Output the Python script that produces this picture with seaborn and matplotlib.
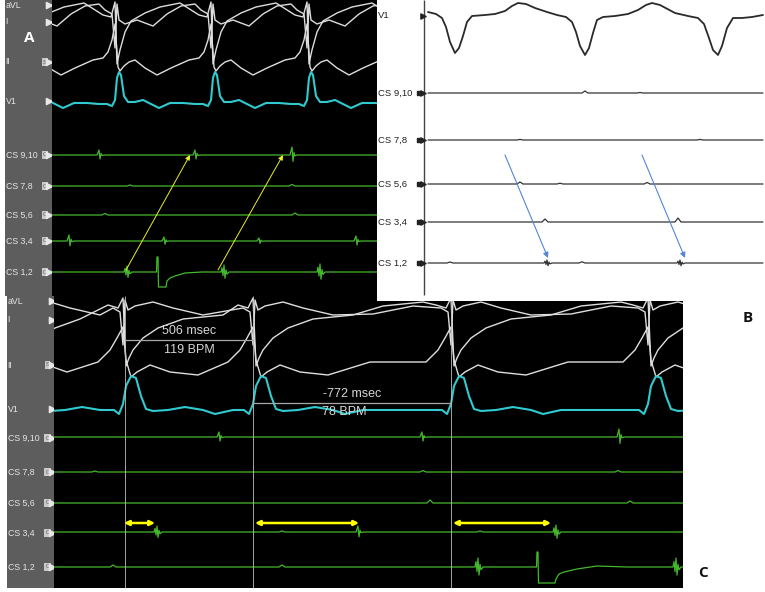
import matplotlib
matplotlib.use("Agg")
import matplotlib.pyplot as plt
import seaborn as sns

sns.set_style("white")
NARROW = ["Liberation Sans Narrow", "Liberation Sans", "DejaVu Sans"]
plt.rcParams["font.family"] = NARROW

W, H = 765, 592

# ======================= DATA =======================
# --- channel labels ---
A_labels = ["aVL", "I", "II", "V1", "CS 9,10", "CS 7,8", "CS 5,6", "CS 3,4", "CS 1,2"]
A_label_rows = [5, 22, 62, 101, 155, 186, 215, 241, 272]
A_box_letters = ["", "", "S", "", "C", "C", "C", "C", "C"]
C_labels = ["aVL", "I", "II", "V1", "CS 9,10", "CS 7,8", "CS 5,6", "CS 3,4", "CS 1,2"]
C_label_rows = [301, 320, 365, 409, 438, 472, 503, 533, 567]
C_box_letters = ["", "", "S", "", "C", "C", "C", "C", "C"]
B_labels = ["V1", "CS 9,10", "CS 7,8", "CS 5,6", "CS 3,4", "CS 1,2"]
B_label_rows = [16, 93, 140, 184, 222, 263]

# --- QRS (ventricular) timing of each panel ---
A_qrs = [19, 115, 211, 307, 403]
C_qrs = [20, 123, 253, 451, 648, 845]

# --- surface lead complex shapes, panel A (offset from QRS, level) ---
A_II_pre_dx = [-22, -12, -7, -3, 0]
A_II_pre_y = [60, 58, 52, 40, 24]
A_II_post_dx = [3, 5, 9, 14, 20, 30, 42, 56, 70, 80]
A_II_post_y = [67, 71, 66, 62, 60, 68, 75, 68, 62, 60]
A_I_pre_dx = [-12, -4, 0]
A_I_pre_y = [15, 17, 2]
A_I_post_dx = [2, 5, 10, 16, 30, 45, 65, 80]
A_I_post_y = [64, 50, 32, 21, 13, 7, 3, 9]
A_aVL_pre_dx = [-10, -3, 0]
A_aVL_pre_y = [10, 14, 48]
A_aVL_post_dx = [2, 4, 10, 22, 38, 52, 66, 80]
A_aVL_post_y = [4, 20, 24, 20, 26, 14, 6, 4]
A_V1_pre_dx = [-8, -3, 0]
A_V1_pre_y = [104, 106, 100]
A_V1_post_dx = [2, 4, 6, 9, 13, 20, 28, 36, 44, 55, 68, 80]
A_V1_post_y = [78, 72, 75, 96, 102, 102, 100, 104, 108, 103, 103, 104]

# --- surface lead complex shapes, panel C ---
C_II_pre_dx = [-25, -13, -6, 0]
C_II_pre_y = [362, 350, 338, 327]
C_II_post_dx = [3, 8, 14, 27, 47, 75, 117, 160]
C_II_post_y = [360, 377, 372, 365, 372, 375, 362, 362]
C_I_pre_dx = [-15, -5, 0]
C_I_pre_y = [305, 308, 298]
C_I_post_dx = [3, 6, 10, 20, 35, 60, 100, 130, 170]
C_I_post_y = [366, 358, 350, 338, 328, 319, 315, 306, 302]
C_aVL_pre_dx = [-10, -3, 0]
C_aVL_pre_y = [308, 312, 345]
C_aVL_post_dx = [2, 5, 12, 30, 50, 80, 120, 160]
C_aVL_post_y = [300, 310, 306, 302, 308, 315, 314, 306]
C_V1_pre_dx = [-9, -4, 0]
C_V1_pre_y = [410, 414, 404]
C_V1_post_dx = [3, 8, 13, 18, 23, 30, 45, 62, 80, 92, 110, 140]
C_V1_post_y = [386, 376, 378, 396, 409, 411, 410, 407, 410, 414, 410, 410]

# --- panel B surface V1 ---
B_V1_x = [428, 436, 442, 446, 450, 455, 459, 463, 467, 472, 485, 495, 505, 512, 518,
          526, 535, 547, 557, 566, 572, 576, 580, 585, 589, 593, 597, 603, 615, 628,
          638, 646, 652, 660, 675, 688, 698, 704, 709, 713, 718, 722, 727, 733, 742, 752, 763]
B_V1_y = [12, 14, 18, 27, 42, 53, 48, 36, 22, 16, 15, 14, 11, 6, 3,
          4, 8, 12, 15, 17, 22, 32, 46, 55, 48, 33, 20, 17, 16, 14,
          10, 5, 3, 5, 13, 16, 18, 24, 38, 50, 55, 46, 28, 18, 18, 17, 15]

# --- coronary sinus deflection shapes ---
BI_DX = [-3, -1, 0, 1, 2, 4]
BI_DY = [0, -1.0, 0.8, -0.3, 0.1, 0]
UP_DX = [-3, 0, 3]
UP_DY = [0, -1, 0]
FR_DX = [-3, -2, -1, 0, 1, 2, 3, 5]
FR_DY = [0, -0.6, 0.5, -1.0, 0.9, -0.3, 0.3, 0]
PACE_A_DX = [-0.5, 0, 1, 1.5, 9, 10, 13, 18, 28, 45]
PACE_A_DY = [0, -15, -15, 15, 15, 9, 6, 4, 1, 0]
PACE_C_DX = [-0.5, 0, 1, 1.5, 18, 19, 22, 27, 40, 60, 90]
PACE_C_DY = [0, -15, -15, 16, 16, 12, 7, 5, 2, -1, 0]

# --- CS channels: baseline and (time, shape, amplitude) events ---
A_cs_rows = [155, 186, 215, 241, 272]
A_cs_events = [
    [(100, "bi", 5), (196, "bi", 5), (293, "bi", 8)],
    [(130, "up", 1), (292, "up", 1.5)],
    [(105, "up", 1.5), (295, "up", 2)],
    [(70, "bi", 6), (165, "bi", 4), (260, "bi", 3), (357, "bi", 5)],
    [(127, "fr", 6), (157, "paceA", 1), (224, "fr", 7), (320, "fr", 8)],
]
C_cs_rows = [437, 472, 503, 532, 567]
C_cs_events = [
    [(220, "bi", 5), (423, "bi", 5), (620, "bi", 8)],
    [(95, "up", 1), (423, "up", 1.5), (618, "up", 1.5)],
    [(430, "up", 3), (630, "up", 2)],
    [(157, "fr", 6), (282, "up", 1), (359, "bi", 6), (480, "up", 1), (556, "fr", 7)],
    [(113, "up", 2), (282, "up", 2), (478, "fr", 9), (537, "paceC", 1), (676, "fr", 9)],
]
B_cs_rows = [93, 140, 184, 222, 263]
B_cs_events = [
    [(585, "up", 2), (640, "up", 0.5)],
    [(520, "up", 0.6), (700, "up", 0.6)],
    [(520, "up", 2), (560, "up", 0.8), (647, "up", 1.5)],
    [(545, "up", 3), (678, "up", 4)],
    [(450, "up", 1), (547, "fr", 3), (582, "up", 1.2), (680, "fr", 3)],
]

# --- annotations ---
A_arrow_from = [(126, 270), (218, 270)]
A_arrow_to = [(190, 155), (283, 155)]
B_arrow_from = [(505, 155), (642, 155)]
B_arrow_to = [(548, 258), (685, 258)]
C_marker_x = [125, 253, 451]
C_meas_x0 = [125, 253]
C_meas_x1 = [253, 451]
C_meas_y = [340, 403]
C_meas_top = ["506 msec", "-772 msec"]
C_meas_bottom = ["119 BPM", "78 BPM"]
C_meas_top_xy = [(189, 331), (352, 394)]
C_meas_bottom_xy = [(189, 350), (344, 412)]
C_interval_x0 = [124, 255, 453]
C_interval_x1 = [155, 359, 551]
C_interval_y = 523

# ======================= helpers =======================
SHAPES = {"bi": (BI_DX, BI_DY), "up": (UP_DX, UP_DY), "fr": (FR_DX, FR_DY),
          "paceA": (PACE_A_DX, PACE_A_DY), "paceC": (PACE_C_DX, PACE_C_DY)}

GREEN = "#44b82c"
CYAN = "#2fcbd0"
WHITE = "#dedede"
STRIP = "#5d5d5d"


def panel(x0, y0, x1, y1, face, z=1):
    ax = fig.add_axes([x0 / W, 1 - y1 / H, (x1 - x0) / W, (y1 - y0) / H], zorder=z)
    ax.set_facecolor(face)
    ax.set_xlim(x0, x1)
    ax.set_ylim(y1, y0)
    ax.set_xticks([])
    ax.set_yticks([])
    for s in ax.spines.values():
        s.set_visible(False)
    return ax


def ecg(qrs, pre_dx, pre_y, post_dx, post_y):
    xs, ys = [], []
    for i, q in enumerate(qrs):
        for dx, y in zip(pre_dx, pre_y):
            xs.append(q + dx)
            ys.append(y)
        nxt = qrs[i + 1] if i + 1 < len(qrs) else q + 1000
        lim = nxt + pre_dx[0] - 4
        for dx, y in zip(post_dx, post_y):
            if q + dx < lim:
                xs.append(q + dx)
                ys.append(y)
    return xs, ys


def cs(x0, x1, base, events):
    xs, ys = [x0], [base]
    for xe, kind, amp in sorted(events):
        dxs, dys = SHAPES[kind]
        for a, b in zip(dxs, dys):
            xs.append(xe + a)
            ys.append(base + amp * b)
    xs.append(x1)
    ys.append(base)
    return xs, ys


def trace(ax, xs, ys, color, lw):
    sns.lineplot(x=xs, y=ys, ax=ax, color=color, linewidth=lw,
                 estimator=None, sort=False, legend=False)
    ax.set_xlabel("")
    ax.set_ylabel("")


def strip_labels(ax, labels, rows, boxes, xl, xbox, xtri):
    for lab, r, b in zip(labels, rows, boxes):
        ax.text(xl, r, lab, color="#e6e6e6", fontsize=6.3, va="center", ha="left",
                family=NARROW, clip_on=True)
        if b:
            ax.text(xbox, r, b, color="#555555", fontsize=4, va="center", ha="center",
                    family=NARROW, clip_on=True,
                    bbox=dict(boxstyle="square,pad=0.2", fc="#c9c9c9", ec="none"))
        ax.scatter([xtri], [r], marker=">", s=20, color="#e8e8e8", clip_on=False, zorder=5)


fig = plt.figure(figsize=(W / 100, H / 100), dpi=100)
fig.patch.set_facecolor("white")

# ======================= Panel A =======================
axAs = panel(5, 0, 52, 296, STRIP, 2)
axA = panel(52, 0, 377, 296, "black", 2)
strip_labels(axAs, A_labels, A_label_rows, A_box_letters, 5.5, 45, 49.5)
axAs.text(29, 38, "A", color="white", fontsize=11, fontweight="bold",
          family=["Open Sans", "DejaVu Sans"], ha="center", va="center")

for pre_dx, pre_y, post_dx, post_y in [
        (A_aVL_pre_dx, A_aVL_pre_y, A_aVL_post_dx, A_aVL_post_y),
        (A_I_pre_dx, A_I_pre_y, A_I_post_dx, A_I_post_y),
        (A_II_pre_dx, A_II_pre_y, A_II_post_dx, A_II_post_y)]:
    xs, ys = ecg(A_qrs, pre_dx, pre_y, post_dx, post_y)
    trace(axA, xs, ys, WHITE, 1.0)
xs, ys = ecg(A_qrs, A_V1_pre_dx, A_V1_pre_y, A_V1_post_dx, A_V1_post_y)
trace(axA, xs, ys, CYAN, 1.5)
for base, ev in zip(A_cs_rows, A_cs_events):
    xs, ys = cs(52, 377, base, ev)
    trace(axA, xs, ys, GREEN, 0.9)
for p0, p1 in zip(A_arrow_from, A_arrow_to):
    axA.annotate("", xy=p1, xytext=p0,
                 arrowprops=dict(arrowstyle="-|>", color="#eeee22", lw=0.7,
                                 mutation_scale=7, shrinkA=0, shrinkB=0))

# ======================= Panel C =======================
axCs = panel(7, 296, 54, 588, STRIP, 2)
axC = panel(54, 296, 683, 588, "black", 2)
strip_labels(axCs, C_labels, C_label_rows, C_box_letters, 7.5, 47.5, 51.5)

for pre_dx, pre_y, post_dx, post_y in [
        (C_aVL_pre_dx, C_aVL_pre_y, C_aVL_post_dx, C_aVL_post_y),
        (C_I_pre_dx, C_I_pre_y, C_I_post_dx, C_I_post_y),
        (C_II_pre_dx, C_II_pre_y, C_II_post_dx, C_II_post_y)]:
    xs, ys = ecg(C_qrs, pre_dx, pre_y, post_dx, post_y)
    trace(axC, xs, ys, WHITE, 1.0)
xs, ys = ecg(C_qrs, C_V1_pre_dx, C_V1_pre_y, C_V1_post_dx, C_V1_post_y)
trace(axC, xs, ys, CYAN, 1.5)
for base, ev in zip(C_cs_rows, C_cs_events):
    xs, ys = cs(54, 683, base, ev)
    trace(axC, xs, ys, GREEN, 0.9)

axC.vlines(C_marker_x, 296, 588, color="#bdbdbd", lw=0.6)
axC.hlines(C_meas_y, C_meas_x0, C_meas_x1, color="#a8a8a8", lw=0.9)
for t, (x, y) in zip(C_meas_top, C_meas_top_xy):
    axC.text(x, y, t, color="#d6d6d6", fontsize=9, ha="center", va="center", family=NARROW)
for t, (x, y) in zip(C_meas_bottom, C_meas_bottom_xy):
    axC.text(x, y, t, color="#d6d6d6", fontsize=9, ha="center", va="center", family=NARROW)
for x0, x1 in zip(C_interval_x0, C_interval_x1):
    axC.annotate("", xy=(x1, C_interval_y), xytext=(x0, C_interval_y),
                 arrowprops=dict(arrowstyle="<|-|>", color="#ffff00", lw=1.8,
                                 mutation_scale=7, shrinkA=0, shrinkB=0))

# ======================= Panel B =======================
axB = panel(377, 0, 765, 301, "white", 3)
axB.vlines([424], 0, 295, color="#444444", lw=1.0)
for lab, r in zip(B_labels, B_label_rows):
    axB.text(378, r, lab, color="#222222", fontsize=6.8, va="center", ha="left", family=NARROW)
    if lab != "V1":
        axB.scatter([419], [r], marker="s", s=9, color="#222222", zorder=5)
    axB.scatter([422.5], [r], marker=">", s=14, color="#222222", zorder=5)
trace(axB, B_V1_x, B_V1_y, "#2a2a2a", 1.3)
for base, ev in zip(B_cs_rows, B_cs_events):
    xs, ys = cs(428, 763, base, ev)
    trace(axB, xs, ys, "#333333", 0.9)
for p0, p1 in zip(B_arrow_from, B_arrow_to):
    axB.annotate("", xy=p1, xytext=p0,
                 arrowprops=dict(arrowstyle="-|>", color="#5585d5", lw=0.8,
                                 mutation_scale=8, shrinkA=0, shrinkB=0))

# panel letters
fig.text(748 / W, 1 - 318 / H, "B", fontsize=11, fontweight="bold", color="#111111",
         ha="center", va="center", family=["Open Sans", "DejaVu Sans"])
fig.text(703 / W, 1 - 573 / H, "C", fontsize=11, fontweight="bold", color="#111111",
         ha="center", va="center", family=["Open Sans", "DejaVu Sans"])

fig.savefig("out.png", dpi=100)
